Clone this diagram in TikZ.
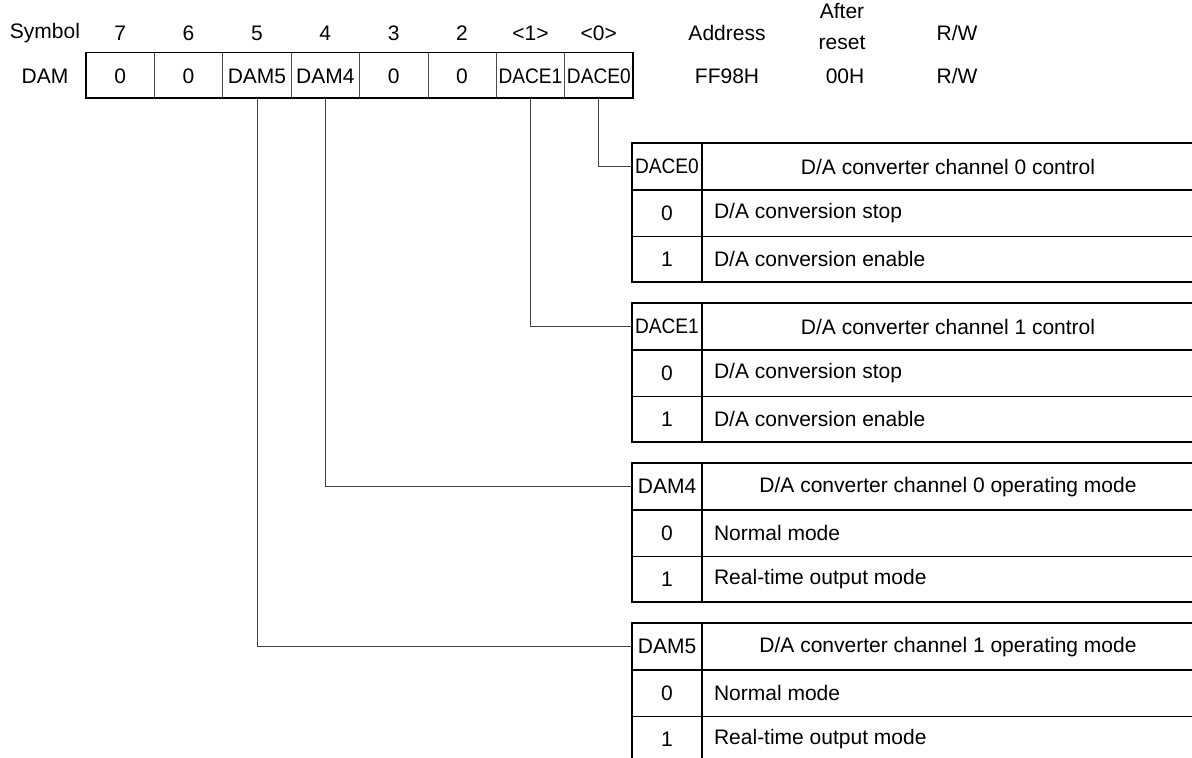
\documentclass[tikz,border=0pt]{standalone}
\usepackage{graphicx}
\usepackage{fontspec}
\setmainfont{Liberation Sans}
\usetikzlibrary{positioning}

\newcommand{\narrowtxt}[1]{\scalebox{0.91}[1]{#1}}
\tikzset{
  regframe/.style={line width=0.85pt},
  regcell/.style={gray!60!black, line width=0.35pt},
  wire/.style={gray!50!black, line width=0.4pt},
  tabframe/.style={line width=0.85pt},
  tabhead/.style={line width=0.65pt},
  tabrule/.style={line width=0.35pt},
  keycell/.style={inner sep=0pt, minimum width=35pt, minimum height=23pt},
}

\begin{document}
\begin{tikzpicture}[x=0.5pt, y=-0.5pt, font=\fontsize{10.5}{12.5}\selectfont]
  \useasboundingbox (0,0) rectangle (1192,758);
  \clip (0,0) rectangle (1192,758);
  % register row
  \node (symlbl) at (45,33) {Symbol};
  \node (reglbl) at (45,76) {DAM};
  \node (adrlbl) at (727,33) {Address};
  \node[align=center, font=\fontsize{10.5}{15.5}\selectfont] (rstlbl) at (842,27) {After\\reset};
  \node (rwlbl) at (957,33) {R/W};
  \node (adrval) at (727,76) {FF98H};
  \node (rstval) at (845,76) {00H};
  \node (rwval) at (957,76) {R/W};
  \foreach \b [count=\i from 0] in {7,6,5,4,3,2,<1>,<0>}
    \node (bit\i) at ({86+68.375*(\i+0.5)},33) {\b};
  \foreach \f [count=\i from 0] in {0,0,DAM5,DAM4,0,0,{\narrowtxt{DACE1}},{\narrowtxt{DACE0}}}
    \node[inner sep=0pt] (fld\i) at ({86+68.375*(\i+0.5)},76) {\f};
  \foreach \i in {1,...,7}
    \draw[regcell] ({86+68.375*\i},52.5) -- ({86+68.375*\i},97.7);
  \draw[regframe] (86,52.5) rectangle (633,97.7);
  \coordinate (regbot) at (0,97.7);

  % the four bit tables
  \foreach \k/\ttl/\za/\zb [count=\j from 0] in {
      {\narrowtxt{DACE0}}/{D/A converter channel 0 control}/{D/A conversion stop}/{D/A conversion enable},
      {\narrowtxt{DACE1}}/{D/A converter channel 1 control}/{D/A conversion stop}/{D/A conversion enable},
      DAM4/{D/A converter channel 0 operating mode}/{Normal mode}/{Real-time output mode},
      DAM5/{D/A converter channel 1 operating mode}/{Normal mode}/{Real-time output mode}} {
    \pgfmathsetmacro{\ty}{143.3+160*\j}
    \node[keycell] (key\j) at (667,{\ty+23.3}) {\k};
    \node (ttl\j) at (948,{\ty+23.3}) {\ttl};
    \node (vza\j) at (667,{\ty+69.7}) {0};
    \node[anchor=west] (dza\j) at (707,{\ty+69.7}) {\za};
    \node (vzb\j) at (667,{\ty+115.7}) {1};
    \node[anchor=west] (dzb\j) at (707,{\ty+115.7}) {\zb};
    \draw[tabhead] (632,{\ty+46.7}) -- (1196,{\ty+46.7});
    \draw[tabrule] (632,{\ty+92.7}) -- (1196,{\ty+92.7});
    \draw[tabframe] (1196,\ty) -- (632,\ty) -- (632,{\ty+139}) -- (1196,{\ty+139});
    \draw[tabframe] (702,\ty) -- (702,{\ty+139});
  }

  % connectors from the bits to their tables
  \foreach \f/\k in {7/0,6/1,3/2,2/3}
    \draw[wire] (fld\f |- regbot) |- (key\k.west);
\end{tikzpicture}
\end{document}
